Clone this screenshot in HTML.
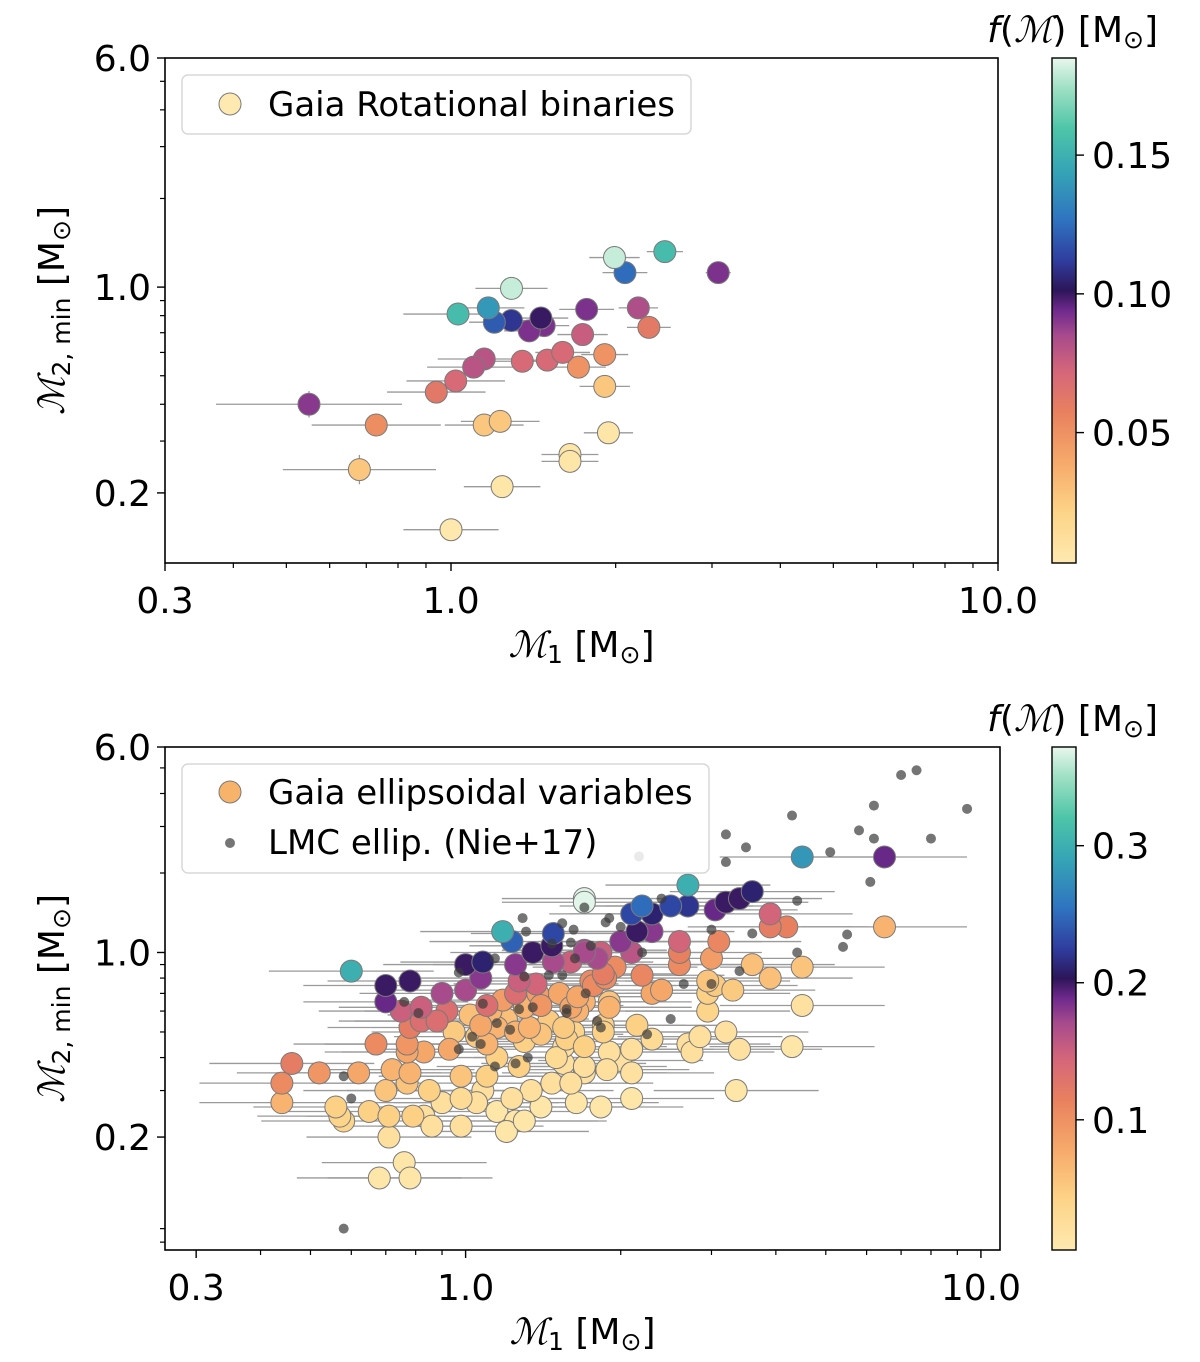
<!DOCTYPE html>
<html><head><meta charset="utf-8"><style>
html,body{margin:0;padding:0;background:#fff;}
svg{display:block;font-family:"DejaVu Sans","Liberation Sans",sans-serif;}
</style></head><body>
<svg id="fig" width="1200" height="1362" viewBox="0 0 1200 1362" xmlns="http://www.w3.org/2000/svg">
<defs>
<linearGradient id="cmap" x1="0" y1="1" x2="0" y2="0">
<stop offset="0" stop-color="#fee9b0"/><stop offset="0.1" stop-color="#fdd488"/><stop offset="0.2" stop-color="#f6a96a"/>
<stop offset="0.3" stop-color="#e8805f"/><stop offset="0.38" stop-color="#d4667a"/><stop offset="0.45" stop-color="#a84b8c"/>
<stop offset="0.5" stop-color="#6f2a8d"/><stop offset="0.54" stop-color="#2c1659"/><stop offset="0.6" stop-color="#2f3e9f"/>
<stop offset="0.68" stop-color="#2f74c0"/><stop offset="0.78" stop-color="#36a6b5"/><stop offset="0.86" stop-color="#4ec5a8"/>
<stop offset="0.94" stop-color="#9ee0c4"/><stop offset="1" stop-color="#e8f7ec"/>
</linearGradient>
</defs>
</svg>
<script>
// ---- Top panel data (Gaia rotational binaries) ----
const topM1 = [1.99,2.46,2.08,3.08,1.29,1.17,1.03,1.46,1.29,1.20,1.48,1.39,1.77,2.20,2.30,1.74,1.15,1.10,1.02,0.94,0.55,1.50,1.60,1.35,1.91,1.71,1.91,0.73,1.15,1.23,0.68,1.94,1.65,1.65,1.24,1.00];
const topM2 = [1.26,1.32,1.12,1.12,0.99,0.85,0.81,0.785,0.77,0.76,0.74,0.71,0.84,0.85,0.73,0.69,0.57,0.535,0.48,0.44,0.40,0.565,0.60,0.56,0.59,0.535,0.46,0.34,0.34,0.35,0.24,0.32,0.27,0.256,0.21,0.15];
const topF = [0.18,0.155,0.125,0.092,0.18,0.14,0.155,0.10,0.11,0.12,0.092,0.092,0.092,0.083,0.061,0.076,0.08,0.08,0.07,0.062,0.09,0.07,0.07,0.07,0.049,0.049,0.027,0.052,0.027,0.027,0.027,0.006,0.006,0.006,0.006,0.004];
const topXErr = [0.046,0.033,0.041,0.023,0.066,0.066,0.10,0.05,0.046,0.046,0.046,0.046,0.05,0.036,0.04,0.046,0.085,0.085,0.09,0.09,0.17,0.05,0.05,0.05,0.043,0.05,0.046,0.118,0.072,0.072,0.14,0.045,0.052,0.052,0.07,0.087];
const topYErr = [0.012,0.012,0.012,0.012,0.012,0.015,0.02,0.012,0.012,0.012,0.012,0.012,0.012,0.012,0.012,0.012,0.02,0.02,0.025,0.02,0.045,0.012,0.012,0.012,0.012,0.012,0.012,0.035,0.02,0.02,0.05,0.012,0.012,0.012,0.015,0.02];
// ---- Bottom panel data (Gaia ellipsoidal variables) ----
const botM1 = [0.6,0.7,0.78,0.7,0.9,1.0,0.75,0.82,0.92,0.82,0.88,0.78,0.67,0.77,0.83,0.93,0.77,0.46,0.44,0.44,0.52,0.62,0.72,0.78,0.77,0.7,0.85,0.98,0.56,0.58,0.57,0.65,0.71,0.79,0.83,0.86,0.71,0.76,0.68,0.78,0.98,0.98,0.9,
1.1,1.07,1.0,1.08,1.18,1.23,1.35,1.25,1.27,1.25,1.37,1.48,1.47,1.48,1.6,1.7,1.7,1.83,1.07,1.15,1.25,1.1,1.33,1.4,1.52,1.6,1.75,1.85,1.95,1.9,1.7,1.65,1.4,1.3,1.57,1.7,1.85,1.9,1.55,1.7,1.88,1.15,1.1,1.27,1.08,1.34,1.23,1.4,1.47,1.6,1.64,1.83,1.15,1.25,1.2,1.3,1.05,
4.5,6.5,6.5,2.7,1.7,2.2,2.3,2.5,2.7,2.1,2.15,2.3,3.05,3.2,3.4,3.6,3.9,3.9,4.2,2.6,2.6,2.6,3.1,3.0,2.0,1.8,1.7,2.1,2.2,1.77,1.87,2.3,2.4,3.6,3.9,4.5,2.95,3.05,3.3,2.95,2.95,4.5,4.3,3.35,3.2,3.4,2.7,2.75,2.85,1.9,1.85,2.15,2.3,2.1,2.0,1.7,2.1,2.1,1.55,1.65,
1.02,1.12,1.2,1.3,1.45,1.55,1.18,1.38,0.95,1.05,1.5,1.62];
const botM2 = [0.85,0.75,0.78,0.65,0.7,0.72,0.6,0.62,0.6,0.55,0.55,0.52,0.45,0.45,0.42,0.43,0.42,0.38,0.32,0.27,0.35,0.35,0.36,0.35,0.32,0.3,0.3,0.34,0.26,0.23,0.24,0.25,0.24,0.24,0.24,0.22,0.2,0.16,0.14,0.14,0.28,0.22,0.27,
0.63,0.8,0.9,0.92,1.2,1.1,1.0,0.9,0.78,0.7,0.76,1.18,1.06,0.92,0.92,1.6,1.02,1.0,0.53,0.52,0.5,0.45,0.52,0.63,0.7,0.62,0.78,0.83,0.88,0.65,0.65,0.6,0.49,0.46,0.47,0.44,0.53,0.42,0.38,0.37,0.36,0.4,0.34,0.37,0.3,0.3,0.28,0.26,0.32,0.32,0.27,0.26,0.25,0.23,0.21,0.23,0.27,
2.3,2.3,1.25,1.8,1.55,1.5,1.4,1.5,1.5,1.4,1.2,1.2,1.45,1.55,1.6,1.7,1.4,1.25,1.25,1.1,1.0,0.9,1.1,0.95,1.1,0.95,1.0,1.0,0.82,0.75,0.8,0.7,0.72,0.9,0.8,0.88,0.78,0.75,0.72,0.7,0.6,0.63,0.44,0.3,0.5,0.43,0.45,0.42,0.48,0.62,0.5,0.53,0.47,0.43,0.39,0.35,0.35,0.28,0.44,0.68,
0.58,0.6,0.56,0.62,0.55,0.52,0.66,0.7,0.5,0.48,0.4,0.5];
const botF = [0.3,0.2,0.2,0.19,0.17,0.17,0.15,0.15,0.135,0.135,0.135,0.12,0.105,0.095,0.08,0.08,0.08,0.12,0.105,0.07,0.095,0.08,0.07,0.07,0.055,0.055,0.045,0.055,0.045,0.04,0.04,0.045,0.045,0.045,0.022,0.022,0.022,0.012,0.012,0.012,0.03,0.022,0.022,
0.135,0.18,0.2,0.21,0.3,0.245,0.2,0.18,0.15,0.135,0.145,0.23,0.2,0.17,0.15,0.37,0.17,0.15,0.08,0.07,0.07,0.07,0.07,0.095,0.08,0.08,0.105,0.12,0.105,0.055,0.07,0.07,0.055,0.045,0.045,0.045,0.045,0.022,0.022,0.022,0.022,0.045,0.045,0.045,0.022,0.022,0.022,0.012,0.022,0.022,0.012,0.012,0.012,0.012,0.012,0.012,0.022,
0.28,0.19,0.07,0.3,0.37,0.25,0.21,0.23,0.22,0.23,0.2,0.18,0.19,0.2,0.2,0.21,0.145,0.12,0.115,0.145,0.115,0.105,0.11,0.09,0.18,0.17,0.17,0.16,0.11,0.105,0.105,0.08,0.08,0.06,0.06,0.055,0.055,0.05,0.05,0.045,0.04,0.02,0.012,0.012,0.02,0.02,0.022,0.022,0.022,0.07,0.045,0.045,0.03,0.022,0.02,0.02,0.02,0.012,0.022,0.08,
0.06,0.07,0.06,0.07,0.05,0.05,0.09,0.09,0.05,0.05,0.03,0.04];
const botXErr = 0.16, botYErr = 0.03;
// ---- LMC ellipsoidal (Nie+17) ----
const lmcM1 = [7.0,7.5,9.4,6.2,4.3,5.8,6.2,8.0,3.2,3.5,3.2,5.1,6.1,5.5,5.4,4.4,4.4,3.6,3.4,2.65,3.0,2.5,3.0,2.25,1.83,2.4,1.87,2.0,2.2,1.57,2.17,1.29,1.54,1.62,1.31,1.6,1.14,0.97,0.76,0.81,1.08,1.3,1.45,1.54,1.63,1.71,1.27,1.35,1.57,1.15,1.22,1.8,1.07,1.03,0.97,1.14,1.25,1.32,0.58,0.6,1.75,1.9,1.7,1.47,0.58];
const lmcM2 = [4.7,4.9,3.5,3.6,3.3,2.9,2.7,2.7,2.8,2.5,2.2,2.4,1.85,1.17,1.05,1.57,1.0,1.18,0.85,0.76,1.22,0.56,0.76,0.49,0.52,1.6,1.3,1.25,1.0,0.59,2.31,1.35,1.29,1.22,1.2,1.09,0.95,0.84,0.65,0.59,0.64,0.81,0.82,0.82,0.95,0.7,0.61,0.62,0.61,0.54,0.51,0.55,0.45,0.48,0.43,0.37,0.38,0.4,0.34,0.28,1.06,1.35,1.48,1.08,0.09];
// ---- ticks ----
const xTickVals = [0.3,1.0,10.0];
const xTickLabels = ["0.3","1.0","10.0"];
const yTickVals = [0.2,1.0,6.0];
const yTickLabels = ["0.2","1.0","6.0"];
const topCbarTicks = [0.05,0.10,0.15];
const topCbarLabels = ["0.05","0.10","0.15"];
const botCbarTicks = [0.1,0.2,0.3];
const botCbarLabels = ["0.1","0.2","0.3"];

const NS = "http://www.w3.org/2000/svg";
const svgRoot = document.getElementById('fig');
function mk(tag, attrs, parent){ const e=document.createElementNS(NS,tag); for(const k in attrs) e.setAttribute(k,attrs[k]); (parent||svgRoot).appendChild(e); return e; }
const cstops=[[0,'#fee9b0'],[0.1,'#fdd488'],[0.2,'#f6a96a'],[0.3,'#e8805f'],[0.38,'#d4667a'],[0.45,'#a84b8c'],[0.5,'#6f2a8d'],[0.54,'#2c1659'],[0.6,'#2f3e9f'],[0.68,'#2f74c0'],[0.78,'#36a6b5'],[0.86,'#4ec5a8'],[0.94,'#9ee0c4'],[1,'#e8f7ec']];
function hexc(h){return [1,3,5].map(i=>parseInt(h.substr(i,2),16));}
function cmap(t){ t=Math.max(0,Math.min(1,t)); for(let i=1;i<cstops.length;i++){ if(t<=cstops[i][0]){ const a=cstops[i-1],b=cstops[i]; const u=(t-a[0])/(b[0]-a[0]); const ca=hexc(a[1]),cb=hexc(b[1]); return 'rgb('+ca.map((v,j)=>Math.round(v+(cb[j]-v)*u)).join(',')+')'; } } return cstops[cstops.length-1][1]; }

function panel(P){
  const lx=v=>P.x0+(Math.log10(v)-Math.log10(P.xmin))/(Math.log10(P.xmax)-Math.log10(P.xmin))*(P.x1-P.x0);
  const ly=v=>P.y1-(Math.log10(v)-Math.log10(P.ymin))/(Math.log10(P.ymax)-Math.log10(P.ymin))*(P.y1-P.y0);
  const g=mk('g',{});
  
  
  const eg=mk('g',{stroke:'#9a9a9a','stroke-width':1.3},g);
  
  
  for(let i=0;i<P.m1.length;i++){
    const xe=Array.isArray(P.xe)?P.xe[i]:P.xe, ye=Array.isArray(P.ye)?P.ye[i]:P.ye;
    const cx=lx(P.m1[i]), cy=ly(P.m2[i]);
    mk('line',{x1:lx(P.m1[i]/Math.pow(10,xe)),x2:lx(P.m1[i]*Math.pow(10,xe)),y1:cy,y2:cy},eg);
    mk('line',{x1:cx,x2:cx,y1:ly(P.m2[i]/Math.pow(10,ye)),y2:ly(P.m2[i]*Math.pow(10,ye))},eg);
  }
  const idx=P.m1.map((_,i)=>i).sort((a,b)=>P.f[a]-P.f[b]);
  for(const i of idx){
    const c=mk('circle',{cx:lx(P.m1[i]),cy:ly(P.m2[i]),r:P.r,fill:cmap((P.f[i]-P.fmin)/(P.fmax-P.fmin)),stroke:'#7a7a7a','stroke-width':1},g);
    
    
  }
  if(P.lx){
    for(let i=0;i<P.lx.length;i++){
      const d=mk('circle',{cx:lx(P.lx[i]),cy:ly(P.ly[i]),r:5,fill:'#3a3a3a','fill-opacity':0.7},g);
      
      
    }
  }
  const fr=mk('rect',{x:P.x0,y:P.y0,width:P.x1-P.x0,height:P.y1-P.y0,fill:'none',stroke:'#000','stroke-width':1.6},g);
  
  
  const minors=[0.08,0.09,0.2,0.3,0.4,0.5,0.6,0.7,0.8,0.9,2,3,4,5,6,7,8,9];
  for(const v of minors){
    if(v>=P.xmin&&v<=P.xmax&&xTickVals.indexOf(v)<0){const x=lx(v); mk('line',{x1:x,x2:x,y1:P.y1,y2:P.y1+5,stroke:'#000','stroke-width':1.2},g);}
    if(v>=P.ymin&&v<=P.ymax&&yTickVals.indexOf(v)<0){const y=ly(v); mk('line',{x1:P.x0-5,x2:P.x0,y1:y,y2:y,stroke:'#000','stroke-width':1.2},g);}
  }
  xTickVals.forEach((v,i)=>{const x=lx(v); mk('line',{x1:x,x2:x,y1:P.y1,y2:P.y1+8,stroke:'#000','stroke-width':1.4},g);
    const t=mk('text',{x:x,y:P.y1+50,'text-anchor':'middle','font-size':36,fill:'#000'},g); t.textContent=xTickLabels[i];
    
    });
  yTickVals.forEach((v,i)=>{const y=ly(v); mk('line',{x1:P.x0-8,x2:P.x0,y1:y,y2:y,stroke:'#000','stroke-width':1.4},g);
    const t=mk('text',{x:P.x0-14,y:y+13,'text-anchor':'end','font-size':36,fill:'#000'},g); t.textContent=yTickLabels[i];
    
    });
  const xt=mk('text',{x:(P.x0+P.x1)/2,y:P.y1+94,'text-anchor':'middle','font-size':36,fill:'#000'},g);
  xt.innerHTML='<tspan font-style="italic" font-family="DejaVu Serif, serif">ℳ</tspan><tspan font-size="25" dy="6">1</tspan><tspan dy="-6"> [M</tspan><tspan font-size="25" dy="6">⊙</tspan><tspan dy="-6">]</tspan>';
  
  
  const cy=(P.y0+P.y1)/2;
  const yt=mk('text',{x:0,y:0,'text-anchor':'middle','font-size':36,fill:'#000',transform:'translate(64,'+cy+') rotate(-90)'},g);
  yt.innerHTML='<tspan font-style="italic" font-family="DejaVu Serif, serif">ℳ</tspan><tspan font-size="25" dy="6">2, min</tspan><tspan dy="-6"> [M</tspan><tspan font-size="25" dy="6">⊙</tspan><tspan dy="-6">]</tspan>';
  
  
  const cb=mk('g',{},g);
  
  
  mk('rect',{x:1052,y:P.y0,width:24,height:P.y1-P.y0,fill:'url(#cmap)',stroke:'#000','stroke-width':1.4},cb);
  const cyf=v=>P.y1-(v-P.fmin)/(P.fmax-P.fmin)*(P.y1-P.y0);
  P.cbt.forEach((v,i)=>{const y=cyf(v); mk('line',{x1:1076,x2:1084,y1:y,y2:y,stroke:'#000','stroke-width':1.4},cb);
    const t=mk('text',{x:1092,y:y+13,'font-size':36,fill:'#000'},cb); t.textContent=P.cbl[i];
    
    });
  const ct=mk('text',{x:1158,y:P.y0-16,'text-anchor':'end','font-size':36,fill:'#000'},cb);
  ct.innerHTML='<tspan font-style="italic">f</tspan>(<tspan font-style="italic" font-family="DejaVu Serif, serif">ℳ</tspan>) [M<tspan font-size="25" dy="6">⊙</tspan><tspan dy="-6">]</tspan>';
  
  
  return {lx,ly,g};
}

const topPanel = panel({name:'top-panel',x0:165,x1:998,y0:58,y1:563,xmin:0.3,xmax:10,ymin:0.1156,ymax:6,
  m1:topM1,m2:topM2,f:topF,xe:topXErr,ye:topYErr,r:11,fmin:0.003,fmax:0.185,cbt:topCbarTicks,cbl:topCbarLabels});
const botPanel = panel({name:'bottom-panel',x0:165,x1:1000,y0:747,y1:1250,xmin:0.261,xmax:10.89,ymin:0.0747,ymax:6,
  m1:botM1,m2:botM2,f:botF,xe:botXErr,ye:botYErr,r:11,fmin:0.005,fmax:0.372,cbt:botCbarTicks,cbl:botCbarLabels,lx:lmcM1,ly:lmcM2});

const lg1=mk('g',{});


mk('rect',{x:182,y:75,width:509,height:59,rx:6,fill:'#fff','fill-opacity':0.85,stroke:'#d8d8d8','stroke-width':1.5},lg1);
mk('circle',{cx:230,cy:104,r:11,fill:'#fee9b0',stroke:'#7a7a7a'},lg1);
const l1=mk('text',{x:268,y:116,'font-size':34,fill:'#000'},lg1); l1.textContent='Gaia Rotational binaries';



const lg2=mk('g',{});


mk('rect',{x:182,y:764,width:527,height:109,rx:6,fill:'#fff','fill-opacity':0.85,stroke:'#d8d8d8','stroke-width':1.5},lg2);
mk('circle',{cx:230,cy:792,r:11,fill:'#f8b36b',stroke:'#7a7a7a'},lg2);
const l2=mk('text',{x:268,y:804,'font-size':34,fill:'#000'},lg2); l2.textContent='Gaia ellipsoidal variables';


mk('circle',{cx:230,cy:843,r:5,fill:'#3a3a3a','fill-opacity':0.7},lg2);
const l3=mk('text',{x:268,y:854,'font-size':34,fill:'#000'},lg2); l3.textContent='LMC ellip. (Nie+17)';


</script>
</body></html>
